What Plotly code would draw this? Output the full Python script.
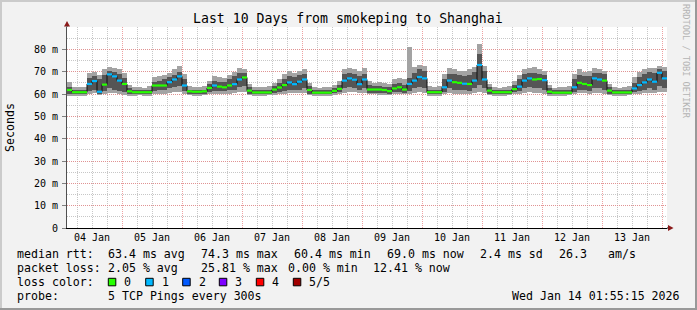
import plotly.graph_objects as go
import pandas as pd
import numpy as np

# ---------------- data (2-hour bins, values in ms) ----------------
START = "2026-01-04 02:00:00"
END = "2026-01-14 02:00:00"

median_ms = [
    61.8, 60.8, 60.8, 60.8, 64.5, 65.8, 61.0, 64.2, 68.8, 67.9,
    66.0, 64.5, 61.2, 60.8, 60.8, 60.8, 60.8, 63.8, 63.8, 63.8,
    65.3, 66.5, 67.9, 63.8, 61.2, 61.0, 61.0, 61.2, 62.7, 63.8,
    63.3, 63.0, 63.8, 64.4, 66.5, 67.4, 61.5, 60.7, 60.7, 60.7,
    60.7, 62.0, 62.9, 64.0, 65.2, 64.4, 65.5, 66.5, 61.8, 60.6,
    60.6, 60.6, 60.6, 61.4, 62.3, 66.0, 67.0, 66.4, 64.4, 66.5,
    62.0, 62.0, 62.0, 61.8, 61.3, 62.5, 63.0, 62.0, 64.5, 66.0,
    67.6, 67.0, 60.8, 60.8, 60.8, 63.0, 66.0, 65.3, 65.0, 64.6,
    64.5, 66.0, 73.0, 66.5, 61.5, 60.8, 60.8, 60.8, 60.8, 62.2,
    63.3, 66.0, 67.0, 66.5, 66.7, 66.2, 61.0, 60.6, 60.6, 60.6,
    60.6, 63.0, 65.0, 64.5, 64.0, 67.0, 66.5, 66.0, 61.5, 60.7,
    60.7, 60.7, 60.7, 62.5, 64.0, 65.2, 66.5, 65.5, 69.5, 67.0,
]

loss_count = [
    0, 0, 0, 0, 1, 1, 1, 0, 1, 1,
    1, 0, 0, 0, 0, 0, 0, 0, 0, 0,
    1, 1, 1, 1, 0, 0, 0, 0, 0, 1,
    0, 0, 0, 1, 1, 0, 0, 0, 0, 0,
    0, 0, 0, 0, 1, 1, 1, 1, 0, 0,
    0, 0, 0, 0, 0, 1, 1, 1, 1, 1,
    0, 0, 0, 0, 0, 0, 0, 0, 1, 1,
    1, 1, 0, 0, 0, 1, 1, 0, 0, 1,
    0, 1, 1, 1, 0, 0, 0, 0, 0, 0,
    1, 1, 1, 0, 0, 1, 0, 0, 0, 0,
    0, 1, 0, 0, 0, 1, 1, 0, 0, 0,
    0, 0, 0, 1, 1, 1, 1, 1, 1, 1,
]

smoke_min = [
    59.0, 59.3, 59.3, 59.2, 60.0, 60.5, 59.5, 60.0, 60.5, 60.5,
    60.0, 59.5, 59.3, 59.2, 59.4, 59.3, 59.2, 60.0, 60.0, 60.2,
    60.5, 61.0, 61.0, 60.0, 59.5, 59.3, 59.3, 59.4, 59.8, 60.0,
    60.0, 60.0, 60.2, 60.5, 61.0, 61.0, 59.5, 59.2, 59.3, 59.2,
    59.4, 59.5, 60.0, 60.2, 60.5, 60.5, 60.5, 60.5, 59.5, 59.2,
    59.3, 59.2, 59.3, 59.5, 59.8, 60.5, 61.0, 61.0, 60.5, 60.5,
    59.8, 59.8, 59.7, 59.7, 59.5, 59.8, 60.0, 59.8, 60.0, 60.5,
    61.0, 60.5, 59.2, 59.3, 59.3, 59.8, 60.5, 60.0, 60.0, 60.0,
    60.0, 60.5, 61.0, 60.5, 59.5, 59.3, 59.2, 59.3, 59.4, 59.8,
    60.0, 60.5, 61.0, 60.5, 60.5, 60.0, 59.3, 59.2, 59.3, 59.2,
    59.4, 59.8, 60.5, 60.5, 60.0, 60.5, 60.5, 60.0, 59.5, 59.3,
    59.2, 59.3, 59.4, 59.8, 60.0, 60.5, 60.5, 60.5, 61.0, 61.0,
]

smoke_lo = [
    60.0, 60.0, 60.1, 60.0, 61.5, 62.0, 60.2, 61.5, 62.5, 62.0,
    61.5, 61.0, 60.0, 60.0, 60.1, 60.0, 60.0, 61.5, 61.8, 62.0,
    62.5, 63.0, 63.5, 61.5, 60.2, 60.0, 60.0, 60.1, 61.0, 61.5,
    61.5, 61.5, 62.0, 62.0, 63.0, 63.5, 60.2, 60.0, 60.0, 60.0,
    60.1, 60.5, 61.0, 61.5, 62.0, 62.0, 62.0, 62.5, 60.2, 60.0,
    60.0, 60.0, 60.0, 60.3, 60.8, 62.5, 63.0, 62.5, 62.0, 62.5,
    60.5, 60.5, 60.5, 60.4, 60.2, 60.8, 61.0, 60.5, 61.5, 62.5,
    63.0, 62.5, 60.0, 60.0, 60.0, 61.0, 62.5, 62.0, 62.0, 61.8,
    61.5, 62.5, 64.0, 62.5, 60.2, 60.0, 60.0, 60.0, 60.1, 60.8,
    61.5, 62.5, 63.0, 62.5, 62.5, 62.0, 60.0, 60.0, 60.0, 60.0,
    60.1, 61.0, 62.0, 62.0, 61.5, 62.5, 62.5, 62.0, 60.2, 60.0,
    60.0, 60.0, 60.1, 61.0, 61.5, 62.0, 62.5, 62.0, 63.5, 62.5,
]

smoke_hi = [
    63.0, 61.8, 61.9, 61.8, 67.0, 68.0, 66.5, 68.5, 70.5, 70.0,
    69.0, 67.0, 62.5, 61.8, 61.9, 61.7, 62.0, 65.5, 65.8, 66.5,
    67.5, 68.5, 70.0, 66.5, 62.0, 61.8, 61.8, 62.0, 64.5, 66.0,
    65.5, 65.5, 66.5, 68.0, 69.5, 69.5, 63.0, 61.8, 61.7, 61.8,
    62.0, 63.5, 64.8, 66.5, 68.0, 67.5, 68.5, 69.0, 63.5, 61.8,
    61.7, 61.8, 61.8, 62.8, 64.0, 69.0, 69.5, 69.0, 68.0, 69.0,
    64.0, 63.5, 63.5, 63.2, 63.0, 64.5, 65.0, 64.0, 67.0, 69.5,
    71.0, 70.5, 62.0, 61.8, 62.0, 66.5, 69.0, 69.0, 68.5, 68.0,
    68.5, 70.0, 78.0, 70.5, 63.0, 61.8, 61.7, 61.8, 62.0, 64.0,
    66.5, 69.0, 69.5, 69.5, 69.0, 68.5, 62.5, 61.7, 61.8, 61.8,
    62.0, 66.5, 68.5, 68.0, 68.0, 69.5, 69.5, 69.0, 63.0, 61.8,
    61.7, 61.8, 62.0, 65.0, 67.5, 69.0, 70.0, 69.5, 71.0, 70.5,
]

smoke_max = [
    65.5, 63.2, 63.0, 63.3, 69.5, 69.8, 68.5, 71.0, 72.0, 71.5,
    71.0, 69.5, 64.0, 63.0, 63.3, 62.9, 63.5, 67.5, 68.0, 68.5,
    69.5, 71.0, 72.5, 69.0, 63.5, 63.0, 63.2, 63.5, 66.0, 68.0,
    67.5, 67.0, 68.5, 70.0, 71.5, 71.0, 64.5, 63.0, 63.2, 63.0,
    63.5, 65.0, 66.5, 69.0, 70.5, 69.5, 70.5, 71.0, 65.0, 63.0,
    62.8, 63.0, 63.2, 64.0, 66.0, 71.0, 71.5, 71.0, 70.5, 71.5,
    66.0, 65.0, 65.5, 64.8, 64.5, 66.5, 67.0, 66.5, 81.0, 72.0,
    73.0, 72.5, 63.5, 63.0, 63.5, 69.0, 71.5, 71.0, 70.5, 70.5,
    71.0, 72.0, 82.5, 72.5, 64.5, 63.0, 62.8, 63.2, 63.5, 66.0,
    68.5, 71.0, 71.5, 72.0, 71.0, 70.5, 64.0, 62.8, 63.0, 63.0,
    63.5, 69.0, 71.0, 70.0, 70.5, 71.5, 71.0, 70.5, 64.5, 63.0,
    62.8, 63.0, 63.5, 67.5, 70.0, 71.0, 71.5, 71.5, 72.5, 72.0,
]

y_tick_vals = [0, 10, 20, 30, 40, 50, 60, 70, 80]
y_tick_text = ["0", "10 m", "20 m", "30 m", "40 m", "50 m", "60 m", "70 m", "80 m"]

loss_labels = ["0", "1", "2", "3", "4", "5/5"]
loss_colors = ["#26ff00", "#00b8ff", "#0059ff", "#7e00ff", "#ff0000", "#a10000"]

title_text = "Last 10 Days from smokeping to Shanghai"
row_rtt = [("median rtt:", 16), ("63.4 ms avg", 107.3), ("74.3 ms max", 200),
           ("60.4 ms min", 293.3), ("69.0 ms now", 386), ("2.4 ms sd", 479.3),
           ("26.3", 558.3), ("am/s", 607.3)]
row_loss = [("packet loss:", 16), ("2.05 % avg", 107.3), ("25.81 % max", 200),
            ("0.00 % min", 286.7), ("12.41 % now", 372.3)]
probe_text = "5 TCP Pings every 300s"
stamp_text = "Wed Jan 14 01:55:15 2026"

# ---------------- geometry helpers ----------------
W, H = 697, 310
L, R, T, B = 67, 667, 27, 228
FONT = "DejaVu Sans Mono"


def X(p):
    return (p - L) / (R - L)


def Y(q):
    return (B - q) / (B - T)


times = pd.date_range(START, periods=len(median_ms), freq="2h")
step = pd.Timedelta(hours=2)
bar_w = 2 * 3600 * 1000

fig = go.Figure()

smin = np.array(smoke_min)
smax = np.array(smoke_max)
slo = np.array(smoke_lo)
shi = np.array(smoke_hi)

fig.add_trace(go.Bar(x=times, y=smax - smin, base=smin, width=bar_w, offset=0,
                     marker=dict(color="#a3a3a3", line=dict(width=0)),
                     hoverinfo="skip", showlegend=False))
fig.add_trace(go.Bar(x=times, y=shi - slo, base=slo, width=bar_w, offset=0,
                     marker=dict(color="#555555", line=dict(width=0)),
                     hoverinfo="skip", showlegend=False))

# median step line (dark connectors)
fig.add_trace(go.Scatter(x=list(times) + [pd.Timestamp(END)],
                         y=median_ms + [median_ms[-1]],
                         mode="lines", line=dict(color="#111111", width=1, shape="hv"),
                         hoverinfo="skip", showlegend=False))

# coloured median segments by loss
for k, col in enumerate(loss_colors):
    sx, sy = [], []
    for i, t in enumerate(times):
        if loss_count[i] == k:
            sx += [t, t + step, None]
            sy += [median_ms[i], median_ms[i], None]
    if sx:
        fig.add_trace(go.Scatter(x=sx, y=sy, mode="lines",
                                 line=dict(color=col, width=2.2),
                                 hoverinfo="skip", showlegend=False))

MAJ = "rgba(232,130,130,0.75)"
MIN = "rgba(180,180,180,0.75)"

fig.update_layout(
    width=W, height=H,
    margin=dict(l=L, r=W - R, t=T, b=H - B, pad=0),
    paper_bgcolor="#f2f2f2", plot_bgcolor="#ffffff",
    barmode="overlay", bargap=0,
    showlegend=False,
    font=dict(family=FONT, color="#000000", size=10),
    xaxis=dict(
        type="date", range=[START, END], automargin=False,
        tick0="2026-01-04", dtick=86400000, ticklabelmode="period",
        tickformat="%d %b", ticks="", showgrid=True, gridcolor=MAJ,
        griddash="1px,1px", gridwidth=1,
        minor=dict(dtick=6 * 3600 * 1000, tick0="2026-01-04", showgrid=True,
                   gridcolor=MIN, griddash="1px,1px", gridwidth=1),
        showline=True, linecolor="#000000", linewidth=1, zeroline=False,
        tickfont=dict(family=FONT, size=10, color="#000000"),
    ),
    yaxis=dict(
        range=[0, 90], automargin=False,
        tickvals=y_tick_vals, ticktext=y_tick_text,
        ticks="outside", ticklen=4, tickcolor="#808080",
        showgrid=True, gridcolor=MAJ, griddash="1px,1px", gridwidth=1,
        minor=dict(dtick=5, tick0=0, showgrid=True, gridcolor=MIN,
                   griddash="1px,1px", gridwidth=1),
        showline=True, linecolor="#505050", linewidth=1, zeroline=False,
        tickfont=dict(family=FONT, size=10, color="#000000"),
        ticklabelstandoff=2,
    ),
)

annotations = []


def ann(text, x, y, size=11.6, xanchor="left", color="#000000", angle=0):
    annotations.append(dict(text=text, x=X(x), y=Y(y), xref="paper", yref="paper",
                            showarrow=False, xanchor=xanchor, yanchor="middle",
                            textangle=angle, borderpad=0,
                            font=dict(family=FONT, size=size, color=color)))


ann(title_text, 348, 19, size=13.2, xanchor="center")
ann("Seconds", 10, 128, size=11.6, xanchor="center", angle=-90)
ann("RRDTOOL / TOBI OETIKER", 686, 61, size=8.6, xanchor="center", color="#b4b4b4", angle=90)

for txt, x in row_rtt:
    ann(txt, x, 254.3)
for txt, x in row_loss:
    ann(txt, x, 268.3)
ann("loss color:", 16, 282.3)
ann("probe:", 16, 296.3)
ann(probe_text, 107.3, 296.3)
ann(stamp_text, 681, 296.3, xanchor="right")

sq_x = [108.3, 145.7, 182.7, 219.3, 256.3, 293.3]
shapes = []
for lab, col, sx in zip(loss_labels, loss_colors, sq_x):
    shapes.append(dict(type="rect", xref="paper", yref="paper",
                       x0=X(sx), x1=X(sx + 7.5), y0=Y(285.8), y1=Y(278.3),
                       fillcolor=col, line=dict(color="#000000", width=1)))
    ann(lab, sx + 15, 282.3)

# axis arrows
shapes.append(dict(type="path", xref="paper", yref="paper",
                   path=f"M {X(64)} {Y(26.5)} L {X(70)} {Y(26.5)} L {X(67)} {Y(21)} Z",
                   fillcolor="#8b1a1a", line=dict(width=0)))
shapes.append(dict(type="path", xref="paper", yref="paper",
                   path=f"M {X(668)} {Y(225)} L {X(668)} {Y(231)} L {X(673.5)} {Y(228)} Z",
                   fillcolor="#8b1a1a", line=dict(width=0)))
shapes.append(dict(type="line", xref="paper", yref="paper",
                   x0=X(R), x1=X(668), y0=Y(228), y1=Y(228),
                   line=dict(color="#000000", width=1)))
shapes.append(dict(type="line", xref="paper", yref="paper",
                   x0=X(67), x1=X(67), y0=Y(27), y1=Y(26),
                   line=dict(color="#505050", width=1)))

# frame shading
shapes.append(dict(type="rect", xref="paper", yref="paper",
                   x0=X(0), x1=X(W), y0=Y(0), y1=Y(2),
                   fillcolor="#cbcbcb", line=dict(width=0), layer="below"))
shapes.append(dict(type="rect", xref="paper", yref="paper",
                   x0=X(0), x1=X(2), y0=Y(0), y1=Y(H),
                   fillcolor="#cbcbcb", line=dict(width=0), layer="below"))
shapes.append(dict(type="rect", xref="paper", yref="paper",
                   x0=X(W - 2), x1=X(W), y0=Y(0), y1=Y(H),
                   fillcolor="#999999", line=dict(width=0)))
shapes.append(dict(type="rect", xref="paper", yref="paper",
                   x0=X(0), x1=X(W), y0=Y(H - 2), y1=Y(H),
                   fillcolor="#999999", line=dict(width=0)))

fig.update_layout(annotations=annotations, shapes=shapes)

fig.write_html("out.html")
